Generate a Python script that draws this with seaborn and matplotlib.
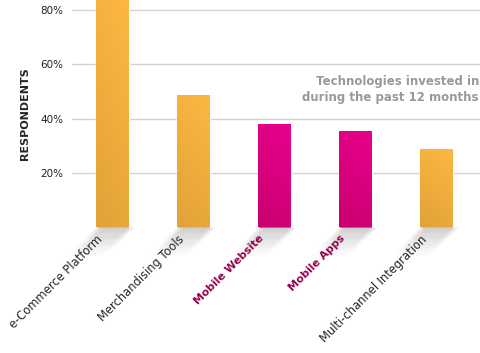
import numpy as np
import matplotlib
matplotlib.use('Agg')
import matplotlib.pyplot as plt
import seaborn as sns
from matplotlib.colors import LinearSegmentedColormap
from matplotlib.patches import Polygon

categories = ['e-Commerce Platform', 'Merchandising Tools', 'Mobile Website',
              'Mobile Apps', 'Multi-channel Integration']
values = [83.5, 48.6, 38.0, 35.3, 28.8]
highlight = [False, False, True, True, False]
yticks = [20, 40, 60, 80]

sns.set_style('white')
plt.rcParams['font.family'] = ['DejaVu Sans']

fig = plt.figure(figsize=(4.81, 3.53), dpi=100)
ax = fig.add_axes([72 / 481, (353 - 227.5) / 353, 1 - 72 / 481, 227.5 / 353])

palette = ['#E5007F' if h else '#F7B03C' for h in highlight]
sns.barplot(x=categories, y=values, hue=categories, palette=palette,
            width=0.4, legend=False, ax=ax, zorder=3)

ax.set_xlim(-0.5, 4.55)
ax.set_ylim(0, 83.5)

# pixel -> data scale, for the shadow shapes and label offsets
bb = ax.get_window_extent()
px_x = 5.05 / bb.width
px_y = 83.5 / bb.height

grads = {
    False: LinearSegmentedColormap.from_list('o', ['#E2A238', '#FDB843']),
    True: LinearSegmentedColormap.from_list('p', ['#C9006F', '#E8008C']),
}
gy, gx = np.mgrid[0:1:100j, 0:1:20j]
for p, h in zip(ax.patches, highlight):
    x0, w, hgt = p.get_x(), p.get_width(), p.get_height()
    img = ax.imshow(0.75 * gy + 0.25 * gx, origin='lower', cmap=grads[h],
                    extent=[x0, x0 + w, 0, hgt], aspect='auto', zorder=4)
    img.set_clip_path(p)
    # soft shadow falling down-left at 45 degrees
    n = 14
    depth = 28
    for k in range(n):
        d0, d1 = depth * k / n, depth * (k + 1) / n
        a = 0.26 * (1 - k / n) ** 1.3
        for inset in range(0, 8, 2):
            poly = Polygon([(x0 + (inset - d0) * px_x, -d0 * px_y),
                            (x0 + w + (6 - inset - d0) * px_x, -d0 * px_y),
                            (x0 + w + (6 - inset - d1) * px_x, -d1 * px_y),
                            (x0 + (inset - d1) * px_x, -d1 * px_y)],
                           closed=True, facecolor='#444444', alpha=a / 4,
                           edgecolor='none', clip_on=False, zorder=1)
            ax.add_patch(poly)

ax.set_yticks(yticks)
ax.set_yticklabels([f'{t}%' for t in yticks], fontsize=7.5, color='#222222')
ax.yaxis.grid(True, color='#d2d2d2', lw=1)
ax.set_axisbelow(True)
for s in ax.spines.values():
    s.set_visible(False)
ax.tick_params(axis='both', length=0, pad=6)
ax.set_ylabel('RESPONDENTS', fontsize=8, fontweight='bold', labelpad=8)

# labels anchored a little left of each bar centre
ax.set_xticks([i - 16 * px_x for i in range(len(categories))])
ax.set_xticklabels(categories, rotation=45, ha='right', va='top',
                   rotation_mode='anchor', fontsize=8.3)
for lab, h in zip(ax.get_xticklabels(), highlight):
    if h:
        lab.set_color('#990050')
        lab.set_fontweight('bold')
        lab.set_fontsize(7.8)
ax.tick_params(axis='x', pad=4)

ax.text(0.995, 0.67, 'Technologies invested in\nduring the past 12 months',
        transform=ax.transAxes, ha='right', va='top', fontsize=8.5,
        fontweight='bold', color='#999999', linespacing=1.25)

fig.savefig('out.png', dpi=100)
